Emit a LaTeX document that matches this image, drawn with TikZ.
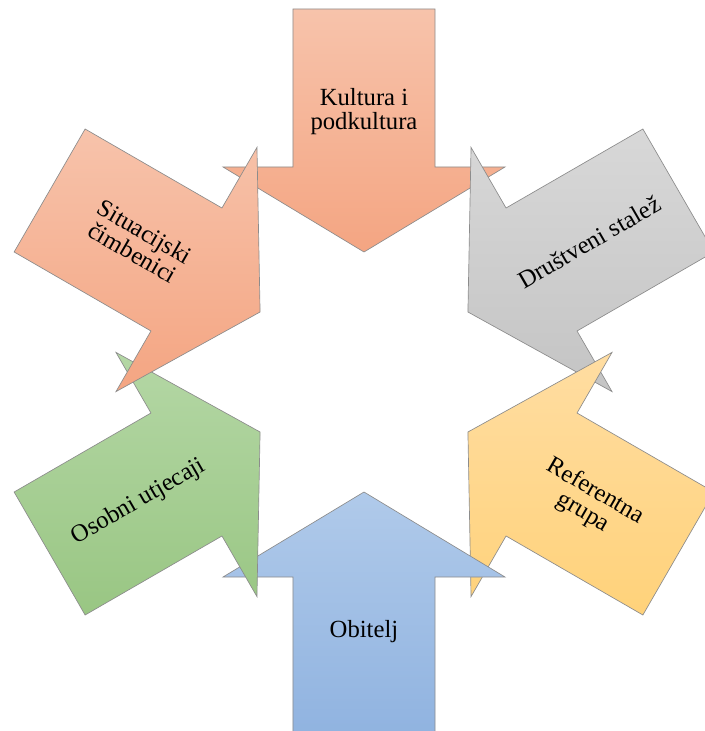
\documentclass[tikz,border=0pt]{standalone}
\usepackage{fontspec}
\setmainfont{Liberation Serif}
\usetikzlibrary{calc}

\definecolor{salmonT}{HTML}{F7C3AB}
\definecolor{salmonB}{HTML}{F4A582}
\definecolor{grayT}{HTML}{D8D8D8}
\definecolor{grayB}{HTML}{C4C4C4}
\definecolor{goldT}{HTML}{FFDDA2}
\definecolor{goldB}{HTML}{FFD27A}
\definecolor{blueT}{HTML}{B0CAEA}
\definecolor{blueB}{HTML}{90B3E0}
\definecolor{greenT}{HTML}{B4D7A5}
\definecolor{greenB}{HTML}{99C683}

\tikzset{
  blockarrow/.style={draw=black!45,line width=0.5pt},
  factor/.style={align=center,inner sep=0pt,font=\fontsize{18.5}{18}\selectfont}
}

\begin{document}
\begin{tikzpicture}[x=0.75pt,y=0.75pt]
    \useasboundingbox (-364,-359) rectangle (341,372);
    % six arrows, clockwise from the top
    \foreach \ang/\ctop/\cbot in {90/salmonT/salmonB,30/grayT/grayB,-30/goldT/goldB,
                                  -90/blueT/blueB,-150/greenT/greenB,150/salmonT/salmonB}{
      \path[blockarrow,top color=\ctop,bottom color=\cbot]
        ([rotate=\ang-90]-71,363) -- ([rotate=\ang-90]71,363) -- ([rotate=\ang-90]71,205)
        -- ([rotate=\ang-90]141,205) -- ([rotate=\ang-90]0,120) -- ([rotate=\ang-90]-141,205)
        -- ([rotate=\ang-90]-71,205) -- cycle;
    }
    \node[factor] (kultura) at (90:260) {Kultura i\\podkultura};
    \node[factor,rotate=30] (stalez) at (30:260) {Društveni stalež};
    \node[factor,rotate=-30] (referent) at (-30:260) {Referentna\\grupa};
    \node[factor] (obitelj) at (-90:260) {Obitelj};
    \node[factor,rotate=30] (osobni) at (-150:260) {Osobni utjecaji};
    \node[factor,rotate=-30] (situac) at (150:260) {Situacijski\\čimbenici};
\end{tikzpicture}
\end{document}
